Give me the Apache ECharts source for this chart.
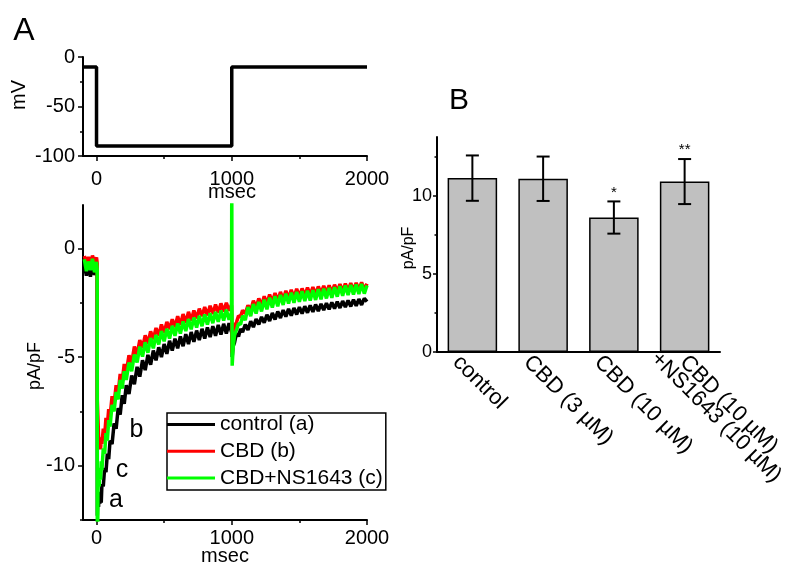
<!DOCTYPE html>
<html>
<head>
<meta charset="utf-8">
<script src="https://cdn.jsdelivr.net/npm/echarts@6/dist/echarts.min.js"></script>
<style>
    html, body {margin: 0; padding: 0; background: #fff;}
    #main {width: 790px; height: 576px;}
</style>
</head>
<body>
<div id="main"></div>
<script>
// A (top): voltage protocol
var protoTime = [-100, 0, 0, 1000, 1000, 2000];
var protoMv = [-10, -10, -90, -90, -10, -10];

// A (bottom): current traces, pA/pF (noise included)
var timeMs = [-90, -75, -60, -45, -30, -15, 0, 5, 6, 10, 15, 20, 25, 30, 35, 40, 50, 60, 70, 80, 90, 100,
    115, 130, 145, 160, 175, 190, 205, 220, 240, 260, 280, 300, 320, 340, 360, 380, 400, 420, 440, 460, 480,
    500, 520, 540, 560, 580, 600, 620, 640, 660, 680, 700, 720, 740, 760, 780, 800, 820, 840, 860, 880, 900,
    920, 940, 960, 980, 998, 1000, 1003, 1010, 1020, 1035, 1050, 1065, 1080, 1100, 1120, 1140, 1160, 1180,
    1200, 1220, 1240, 1260, 1280, 1300, 1320, 1340, 1360, 1380, 1400, 1420, 1440, 1460, 1480, 1500, 1520,
    1540, 1560, 1580, 1600, 1620, 1640, 1660, 1680, 1700, 1720, 1740, 1760, 1780, 1800, 1820, 1840, 1860,
    1880, 1900, 1920, 1940, 1960, 1980, 2000];

var controlTrace = [-0.75, -1.25, -0.8, -1.3, -0.72, -1.22, -0.85, -1.28, -12.3, -11.4, -11.9, -11.2, -11.75,
    -11.3, -11.7, -10.85, -10.95, -10.1, -10.3, -9.45, -9.7, -8.85,
    -9.0, -8.05, -8.3, -7.35, -7.65, -6.75, -7.15, -6.3, -6.7, -5.85, -6.25, -5.45, -5.9, -5.15, -5.6, -4.9,
    -5.35, -4.7, -5.15, -4.55, -5.0,
    -4.4, -4.85, -4.25, -4.7, -4.15, -4.6, -4.05, -4.5, -3.95, -4.4, -3.85, -4.3, -3.78, -4.22, -3.7, -4.15,
    -3.64, -4.08, -3.58, -4.02, -3.52,
    -3.96, -3.47, -3.92, -3.44, -3.85, -3.7, -5.0, -4.5, -4.35, -3.9, -4.05, -3.7, -3.85, -3.5, -3.75, -3.35,
    -3.62, -3.25,
    -3.5, -3.15, -3.42, -3.05, -3.34, -2.97, -3.27, -2.9, -3.2, -2.84, -3.14, -2.78, -3.09, -2.74, -3.04, -2.7,
    -3.0,
    -2.66, -2.96, -2.62, -2.92, -2.58, -2.88, -2.55, -2.84, -2.52, -2.8, -2.48, -2.77, -2.45, -2.74, -2.42,
    -2.7, -2.39,
    -2.67, -2.36, -2.64, -2.33, -2.6, -2.3, -2.45];

var cbdTrace = [-0.35, -0.65, -0.4, -0.7, -0.33, -0.62, -0.42, -0.68, -7.0, -7.7, -8.6, -9.2, -8.95,
    -9.25, -8.7, -9.0, -8.3, -8.6, -7.8, -8.15, -7.4, -7.75,
    -6.8, -7.15, -6.3, -6.65, -5.78, -6.1, -5.32, -5.7, -4.92, -5.28, -4.52, -4.88, -4.22, -4.58, -4.0, -4.38,
    -3.82, -4.18, -3.66, -4.02, -3.5,
    -3.88, -3.38, -3.72, -3.26, -3.62, -3.12, -3.52, -3.02, -3.42, -2.92, -3.32, -2.86, -3.22, -2.77, -3.12,
    -2.7, -3.08, -2.64, -3.02, -2.58, -2.96,
    -2.53, -2.9, -2.5, -2.86, -2.6, -3.0, -4.8, -4.1, -3.55, -3.4, -3.1, -3.15, -2.85, -3.0, -2.62, -2.86,
    -2.4, -2.72,
    -2.3, -2.64, -2.2, -2.54, -2.12, -2.48, -2.05, -2.42, -2.0, -2.36, -1.95, -2.31, -1.9, -2.27, -1.86,
    -2.22, -1.84,
    -2.18, -1.8, -2.15, -1.78, -2.12, -1.75, -2.08, -1.72, -2.05, -1.7, -2.02, -1.67, -1.99, -1.64, -1.96,
    -1.62, -1.94,
    -1.6, -1.92, -1.58, -1.9, -1.56, -1.88, -1.62];

var ns1643Trace = [-0.5, -1.05, -0.6, -1.0, -0.48, -1.1, -0.62, -0.95, -20, -11.3, -10.4, -10.95, -10.1,
    -10.65, -9.8, -10.2, -9.2, -9.45, -8.5, -8.85, -7.9, -8.2,
    -7.2, -7.5, -6.6, -6.95, -6.05, -6.45, -5.65, -6.05, -5.25, -5.65, -4.88, -5.25, -4.52, -4.98, -4.32,
    -4.8, -4.12, -4.6, -3.98, -4.42, -3.8,
    -4.28, -3.7, -4.15, -3.56, -4.02, -3.45, -3.92, -3.36, -3.8, -3.25, -3.72, -3.18, -3.64, -3.1, -3.58,
    -3.04, -3.5, -2.98, -3.44, -2.92, -3.38,
    -2.86, -3.32, -2.82, -3.28, -2.95, 3, -5.4, -4.6, -4.0, -3.75, -3.45, -3.5, -3.1, -3.3, -2.7, -3.12,
    -2.56, -3.0,
    -2.46, -2.9, -2.36, -2.8, -2.27, -2.72, -2.2, -2.66, -2.14, -2.6, -2.08, -2.54, -2.04, -2.5, -2.0,
    -2.46, -1.97,
    -2.42, -1.94, -2.4, -1.92, -2.37, -1.88, -2.34, -1.85, -2.3, -1.82, -2.27, -1.78, -2.22, -1.74, -2.18,
    -1.7, -2.15,
    -1.68, -2.12, -1.66, -2.1, -1.64, -2.08, -1.7];

// letters next to the peaks: [text, msec, pA/pF]
var traceTags = [['a', 144, -11.6], ['c', 189, -10.2], ['b', 296, -8.35]];

// B: mean +- SEM
var barNames = ['control', 'CBD (3 µM)', 'CBD (10 µM)', 'CBD (10 µM)\n+NS1643 (10 µM)'];
var barMeans = [11.12, 11.08, 8.6, 10.9];
var barSem = [1.45, 1.42, 1.03, 1.44];
var barStars = ['', '', '*', '**'];

// ticks
var mvTicks = [-100, -50, 0], mvMinor = [-75, -25];
var msTicks = [0, 1000, 2000], msMinor = [500, 1500];
var paTicks = [-10, -5, 0], paMinor = [-12.5, -7.5, -2.5];
var barTicks = [0, 5, 10], barMinor = [2.5, 7.5, 12.5];

var FONT = '"Liberation Sans", Arial, sans-serif';

function pairs(xs, ys) {
    return xs.map(function (x, i) {
        return [x, ys[i]];
    });
}

// main axis with its own labelled ticks
function mainAxis(o) {
    return {
        type: 'value',
        gridIndex: o.grid,
        position: o.pos,
        min: o.min,
        max: o.max,
        name: o.name,
        nameLocation: 'middle',
        nameGap: o.nameGap,
        nameMoveOverlap: false,
        nameTextStyle: {fontSize: o.nameSize || 20, fontFamily: FONT, color: '#000', padding: o.namePad || 0},
        axisLine: {show: true, onZero: false, lineStyle: {color: '#000', width: 2}},
        axisTick: {show: true, length: o.tickLen || 5, customValues: o.ticks, lineStyle: {color: '#000', width: 1.5}},
        axisLabel: {
            customValues: o.ticks,
            margin: o.margin,
            fontSize: o.fontSize || 20,
            fontFamily: FONT,
            color: '#000',
            formatter: function (v) {
                return String(v);
            }
        },
        splitLine: {show: false}
    };
}

// second axis on the same spot, only short minor ticks
function minorAxis(o) {
    return {
        type: 'value',
        gridIndex: o.grid,
        position: o.pos,
        min: o.min,
        max: o.max,
        axisLine: {show: false, onZero: false},
        axisTick: {show: true, length: o.len || 3, customValues: o.ticks, lineStyle: {color: '#000', width: 1.5}},
        axisLabel: {show: false},
        splitLine: {show: false}
    };
}

function traceSeries(name, values, color) {
    return {
        name: name,
        type: 'line',
        xAxisIndex: 2,
        yAxisIndex: 2,
        data: pairs(timeMs, values),
        symbol: 'none',
        itemStyle: {color: color},
        lineStyle: {color: color, width: 3.5}
    };
}

var chart = echarts.init(document.getElementById('main'));

chart.setOption({
    animation: false,
    backgroundColor: '#fff',
    textStyle: {fontFamily: FONT},
    graphic: [
        {type: 'text', x: 24, y: 31, style: {text: 'A', font: '32px ' + FONT, fill: '#000', align: 'center', verticalAlign: 'middle'}},
        {type: 'text', x: 459, y: 101, style: {text: 'B', font: '30px ' + FONT, fill: '#000', align: 'center', verticalAlign: 'middle'}}
    ],
    grid: [
        {left: 83, top: 57, width: 284, height: 99},
        {left: 83, top: 205, width: 284, height: 315},
        {left: 437, top: 137, width: 283, height: 215}
    ],
    legend: {
        data: ['control (a)', 'CBD (b)', 'CBD+NS1643 (c)'],
        orient: 'vertical',
        left: 167,
        top: 413,
        icon: 'rect',
        itemWidth: 48,
        itemHeight: 3,
        itemGap: 5.7,
        padding: [1, 3, 1.5, 0],
        borderColor: '#000',
        borderWidth: 1.5,
        selectedMode: false,
        textStyle: {fontSize: 21, fontFamily: FONT, color: '#000'}
    },
    xAxis: [
        mainAxis({grid: 0, pos: 'bottom', min: -100, max: 2000, ticks: msTicks, margin: 13,
            name: 'msec', nameGap: 26, namePad: [0, 0, 0, 14]}),
        minorAxis({grid: 0, pos: 'bottom', min: -100, max: 2000, ticks: msMinor}),
        mainAxis({grid: 1, pos: 'bottom', min: -100, max: 2000, ticks: msTicks, margin: 8,
            name: 'msec', nameGap: 26}),
        minorAxis({grid: 1, pos: 'bottom', min: -100, max: 2000, ticks: msMinor}),
        {
            type: 'category',
            gridIndex: 2,
            data: barNames,
            axisLine: {lineStyle: {color: '#000', width: 2}},
            axisTick: {show: false},
            // slanted names are drawn by the 'sem' series below
            axisLabel: {show: false}
        }
    ],
    yAxis: [
        mainAxis({grid: 0, pos: 'left', min: -100, max: 0, ticks: mvTicks, margin: 8,
            name: 'mV', nameGap: 54, namePad: [0, 0, 0, 23]}),
        minorAxis({grid: 0, pos: 'left', min: -100, max: 0, ticks: mvMinor}),
        mainAxis({grid: 1, pos: 'left', min: -12.5, max: 2, ticks: paTicks, margin: 8,
            name: 'pA/pF', nameGap: 39, nameSize: 18, namePad: [0, 7, 0, 0]}),
        minorAxis({grid: 1, pos: 'left', min: -12.5, max: 2, ticks: paMinor}),
        mainAxis({grid: 2, pos: 'left', min: 0, max: 13.75, ticks: barTicks, margin: 5, tickLen: 4,
            fontSize: 18, name: 'pA/pF', nameGap: 20, nameSize: 16, namePad: [0, 7, 0, 0]}),
        minorAxis({grid: 2, pos: 'left', min: 0, max: 13.75, ticks: barMinor, len: 2.5})
    ],
    series: [
        {
            name: 'protocol',
            type: 'line',
            xAxisIndex: 0,
            yAxisIndex: 0,
            data: pairs(protoTime, protoMv),
            symbol: 'none',
            lineStyle: {color: '#000', width: 3.5}
        },
        traceSeries('control (a)', controlTrace, '#000000'),
        traceSeries('CBD (b)', cbdTrace, '#ff0000'),
        traceSeries('CBD+NS1643 (c)', ns1643Trace, '#00ff00'),
        {
            name: 'tags',
            type: 'custom',
            xAxisIndex: 2,
            yAxisIndex: 2,
            data: traceTags.map(function (d) {
                return [d[1], d[2]];
            }),
            renderItem: function (params, api) {
                var p = api.coord([api.value(0), api.value(1)]);
                return {
                    type: 'text',
                    x: p[0],
                    y: p[1],
                    style: {text: traceTags[params.dataIndex][0], font: '25px ' + FONT, fill: '#000', align: 'center', verticalAlign: 'middle'}
                };
            },
            z: 6
        },
        {
            name: 'mean',
            type: 'bar',
            xAxisIndex: 4,
            yAxisIndex: 4,
            data: barMeans,
            barWidth: '70%',
            itemStyle: {color: '#c0c0c0', borderColor: '#000', borderWidth: 1.5}
        },
        {
            name: 'sem',
            type: 'custom',
            xAxisIndex: 4,
            yAxisIndex: 4,
            clip: false,
            data: barMeans.map(function (m, i) {
                return [i, m, barSem[i]];
            }),
            renderItem: function (params, api) {
                var i = api.value(0);
                var m = api.value(1);
                var e = api.value(2);
                var hi = api.coord([i, m + e]);
                var lo = api.coord([i, m - e]);
                var base = api.coord([i, 0]);
                var cap = 6.5;
                var st = {stroke: '#000', lineWidth: 2};
                var kids = [
                    {type: 'line', shape: {x1: hi[0], y1: hi[1], x2: lo[0], y2: lo[1]}, style: st},
                    {type: 'line', shape: {x1: hi[0] - cap, y1: hi[1], x2: hi[0] + cap, y2: hi[1]}, style: st},
                    {type: 'line', shape: {x1: lo[0] - cap, y1: lo[1], x2: lo[0] + cap, y2: lo[1]}, style: st}
                ];
                if (barStars[i]) {
                    kids.push({
                        type: 'text',
                        x: hi[0],
                        y: hi[1] - 9,
                        style: {text: barStars[i], font: '15px ' + FONT, fill: '#000', align: 'center', verticalAlign: 'middle'}
                    });
                }
                // category name, slanted 45 deg, lines centred on each other
                var lines = barNames[i].split('\n');
                var two = lines.length > 1;
                kids.push({
                    type: 'text',
                    x: base[0] + (two ? -24 : -16),
                    y: base[1] + (two ? -3 : 7),
                    rotation: -Math.PI / 4,
                    style: {
                        text: lines.map(function (s) {
                            return '{c|' + s + '}';
                        }).join('\n'),
                        rich: {c: {align: 'center', fontSize: 22, fontFamily: FONT, lineHeight: 18, fill: '#000'}},
                        fill: '#000',
                        align: 'left',
                        verticalAlign: 'middle'
                    }
                });
                return {type: 'group', children: kids};
            },
            z: 5
        }
    ]
});
</script>
</body>
</html>
